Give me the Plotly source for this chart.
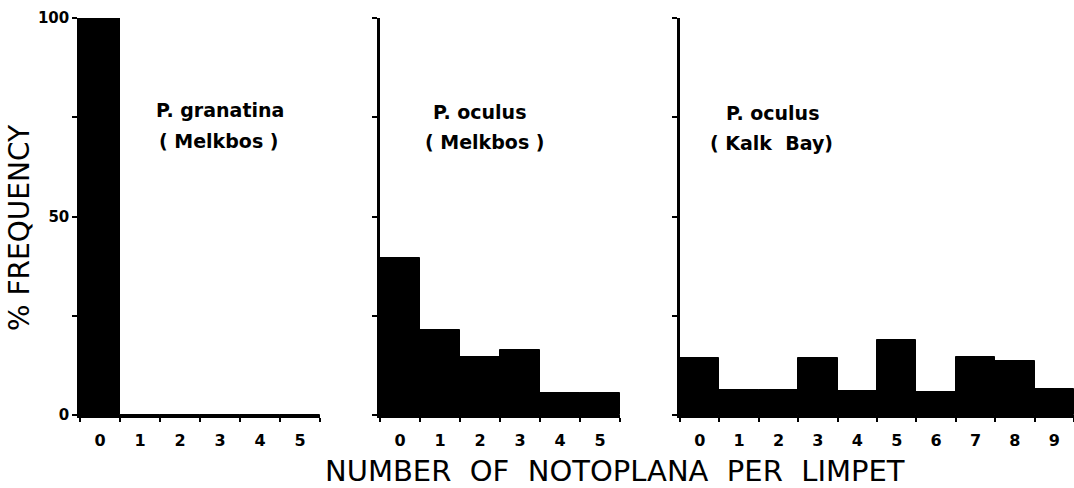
import plotly.graph_objects as go

# Percentage frequency of Notoplana counts per limpet, three samples
granatina_counts = [0, 1, 2, 3, 4, 5]
granatina_freq = [100, 0, 0, 0, 0, 0]

oculus_mb_counts = [0, 1, 2, 3, 4, 5]
oculus_mb_freq = [39.5, 21.4, 14.7, 16.5, 5.6, 5.6]

oculus_kb_counts = [0, 1, 2, 3, 4, 5, 6, 7, 8, 9]
oculus_kb_freq = [14.3, 6.4, 6.4, 14.4, 6.1, 19.0, 5.9, 14.7, 13.7, 6.5]

panel_species = ["P. granatina", "P. oculus", "P. oculus"]
panel_sites = ["( Melkbos )", "( Melkbos )", "( Kalk  Bay)"]
y_tickvals = [0, 25, 50, 75, 100]
y_ticktext = ["0", "", "50", "", "100"]

W, H = 1074, 488
FONT = "DejaVu Sans"

fig = go.Figure()

panels = [
    (granatina_counts, granatina_freq, "x", "y"),
    (oculus_mb_counts, oculus_mb_freq, "x2", "y2"),
    (oculus_kb_counts, oculus_kb_freq, "x3", "y3"),
]
for cats, vals, xa, ya in panels:
    fig.add_trace(go.Bar(
        x=cats, y=vals, xaxis=xa, yaxis=ya, width=1,
        marker=dict(color="black", line=dict(color="black", width=1)),
        showlegend=False,
    ))

# pixel extents of each panel's plotting area
x_px = [(80, 320), (380, 620), (680, 1074)]
y_px = (18, 415)
ydom = [1 - y_px[1] / H, 1 - y_px[0] / H]

axis_common = dict(showline=True, linecolor="black", linewidth=2.5,
                   showgrid=False, zeroline=False, automargin=False,
                   fixedrange=True)

for i, ((x0, x1), (cats, vals, xa, ya)) in enumerate(zip(x_px, panels)):
    n = len(cats)
    xkey = "xaxis" if i == 0 else f"xaxis{i+1}"
    ykey = "yaxis" if i == 0 else f"yaxis{i+1}"
    fig.layout[xkey] = dict(
        domain=[x0 / W, x1 / W], range=[-0.5, n - 0.5],
        tickvals=cats, ticktext=[str(c) for c in cats], ticks="",
        tickfont=dict(family=FONT, size=16, color="black", weight="bold"),
        ticklabelstandoff=9,
        minor=dict(tick0=0.5, dtick=1, ticks="outside", ticklen=4,
                   tickwidth=2, tickcolor="black"),
        anchor=ya,
        **axis_common,
    )
    fig.layout[ykey] = dict(
        domain=ydom, range=[0, 100],
        tickvals=y_tickvals,
        ticktext=y_ticktext if i == 0 else [""] * 5,
        ticks="outside", ticklen=5, tickwidth=2, tickcolor="black",
        tickfont=dict(family=FONT, size=15, color="black", weight="bold"),
        ticklabelstandoff=0,
        anchor=xa,
        **axis_common,
    )

# panel captions: species line and site line
species_pos = [(220, 110), (480, 112), (772, 113)]
site_pos = [(219, 141), (485, 142), (771, 143)]
for (sx, sy), (px, py), sp, site in zip(species_pos, site_pos,
                                        panel_species, panel_sites):
    for (cx, cy), txt in (((sx, sy), sp), ((px, py), site)):
        fig.add_annotation(
            x=cx / W, y=1 - cy / H, xref="paper", yref="paper",
            xanchor="center", yanchor="middle",
            text=txt, showarrow=False,
            font=dict(family=FONT, size=19, color="black", weight="bold"),
        )

fig.add_annotation(
    x=20 / W, y=1 - 228 / H, xref="paper", yref="paper",
    xanchor="center", yanchor="middle",
    text="% FREQUENCY", textangle=-90, showarrow=False,
    font=dict(family=FONT, size=28, color="black"),
)
fig.add_annotation(
    x=615 / W, y=1 - 471 / H, xref="paper", yref="paper",
    xanchor="center", yanchor="middle",
    text="NUMBER  OF  NOTOPLANA  PER  LIMPET", showarrow=False,
    font=dict(family=FONT, size=29, color="black"),
)

fig.update_layout(
    width=W, height=H, margin=dict(l=0, r=0, t=0, b=0),
    paper_bgcolor="white", plot_bgcolor="white", bargap=0,
)

fig.write_html("out.html")
